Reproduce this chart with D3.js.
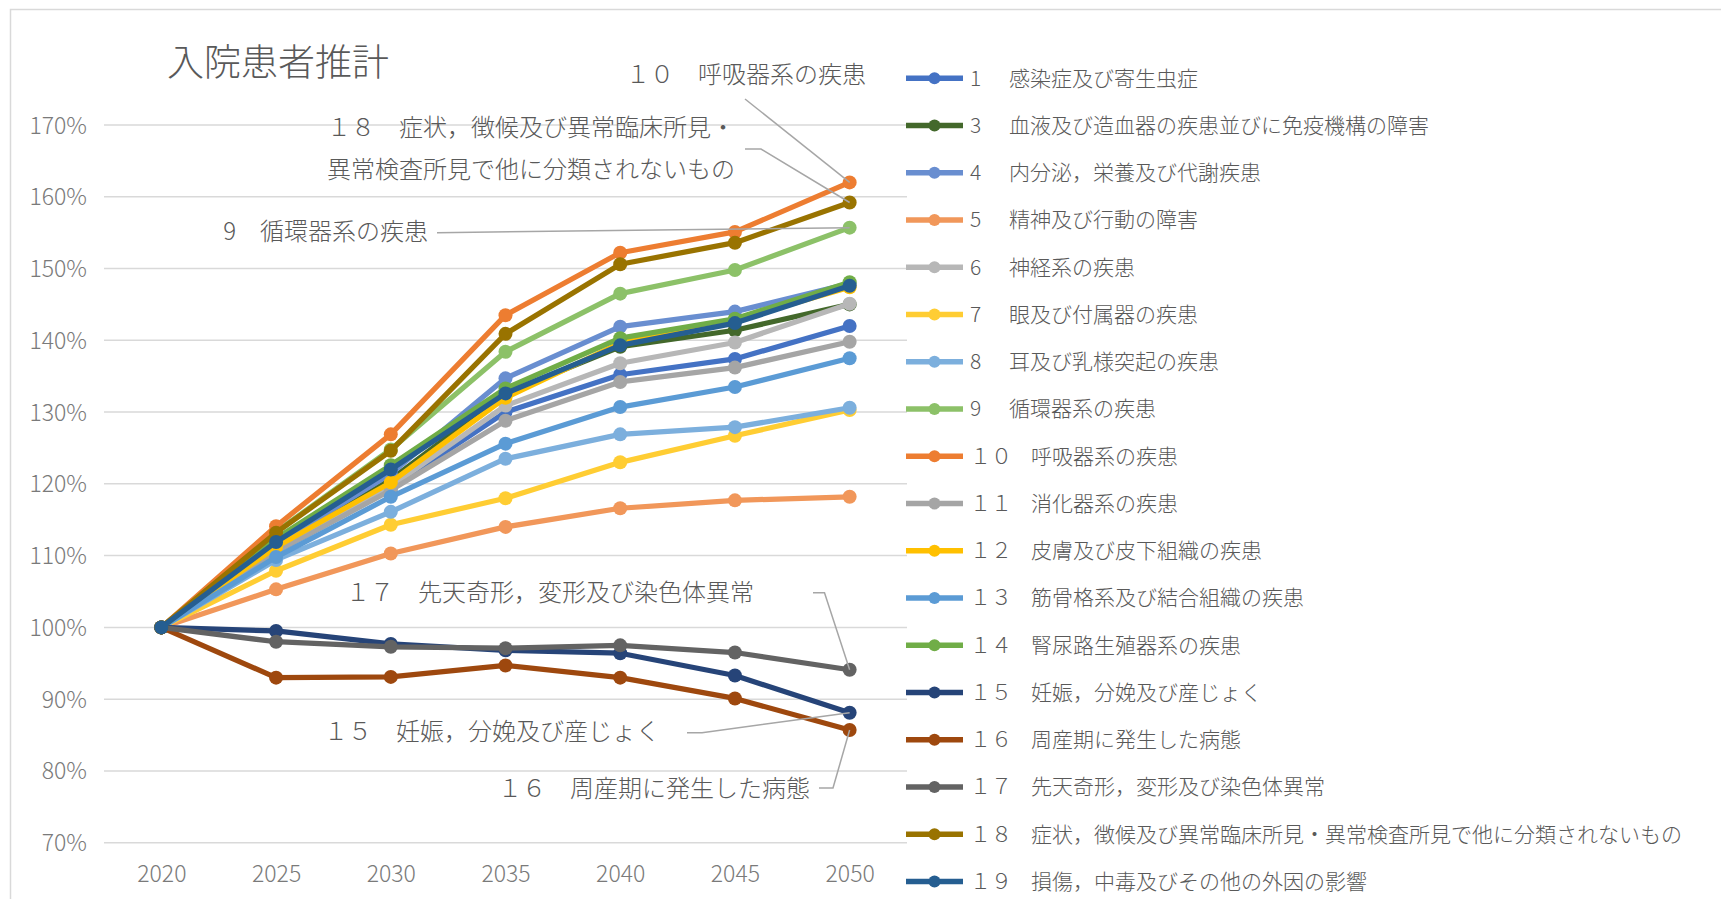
<!DOCTYPE html>
<html>
<head>
<meta charset="utf-8">
<script src="https://cdn.jsdelivr.net/npm/d3@7"></script>
<style>
body { margin: 0; background: #fff; }
text { font-family: "Noto Sans CJK JP", "Noto Sans", sans-serif; font-weight: 300; }
</style>
</head>
<body>
<div id="chart"></div>
<script>

var years = [2020, 2025, 2030, 2035, 2040, 2045, 2050];
var yTicks = [70, 80, 90, 100, 110, 120, 130, 140, 150, 160, 170];
var title = "入院患者推計";

var names = [
    "1　感染症及び寄生虫症",
    "3　血液及び造血器の疾患並びに免疫機構の障害",
    "4　内分泌，栄養及び代謝疾患",
    "5　精神及び行動の障害",
    "6　神経系の疾患",
    "7　眼及び付属器の疾患",
    "8　耳及び乳様突起の疾患",
    "9　循環器系の疾患",
    "１０　呼吸器系の疾患",
    "１１　消化器系の疾患",
    "１２　皮膚及び皮下組織の疾患",
    "１３　筋骨格系及び結合組織の疾患",
    "１４　腎尿路生殖器系の疾患",
    "１５　妊娠，分娩及び産じょく",
    "１６　周産期に発生した病態",
    "１７　先天奇形，変形及び染色体異常",
    "１８　症状，徴候及び異常臨床所見・異常検査所見で他に分類されないもの",
    "１９　損傷，中毒及びその他の外因の影響"
];

var colour = ["#4472C4", "#43682B", "#698ED0", "#F1975A", "#B7B7B7", "#FFCD33",
    "#7CAFDD", "#8CC168", "#ED7D31", "#A5A5A5", "#FFC000", "#5B9BD5",
    "#70AD47", "#264478", "#9E480E", "#636363", "#997300", "#255E91"];

// values in % of 2020
var s1 = [100, 110.6, 119.4, 130.0, 135.2, 137.4, 142.0];
var s3 = [100, 111.0, 120.6, 132.6, 139.1, 141.4, 145.0];
var s4 = [100, 111.6, 121.4, 134.7, 141.9, 144.0, 147.9];
var s5 = [100, 105.3, 110.3, 114.0, 116.6, 117.7, 118.2];
var s6 = [100, 110.8, 119.6, 130.9, 136.8, 139.7, 145.1];
var s7 = [100, 107.9, 114.3, 118.0, 123.0, 126.7, 130.3];
var s8 = [100, 109.4, 116.1, 123.5, 126.9, 127.9, 130.6];
var s9 = [100, 113.3, 124.8, 138.4, 146.5, 149.8, 155.7];
var s10 = [100, 114.1, 126.9, 143.5, 152.2, 155.1, 162.0];
var s11 = [100, 110.5, 119.1, 128.8, 134.2, 136.2, 139.8];
var s12 = [100, 111.2, 120.2, 132.0, 139.6, 142.8, 147.4];
var s13 = [100, 109.8, 118.2, 125.6, 130.7, 133.5, 137.5];
var s14 = [100, 112.4, 122.6, 133.3, 140.3, 143.0, 148.1];
var s15 = [100, 99.5, 97.7, 96.8, 96.4, 93.3, 88.1];
var s16 = [100, 93.0, 93.1, 94.7, 93.0, 90.1, 85.7];
var s17 = [100, 98.0, 97.3, 97.1, 97.5, 96.5, 94.1];
var s18 = [100, 113.2, 124.6, 140.9, 150.6, 153.6, 159.2];
var s19 = [100, 111.9, 122.0, 132.6, 139.3, 142.4, 147.6];

var values = [s1, s3, s4, s5, s6, s7, s8, s9, s10, s11, s12, s13, s14, s15, s16, s17, s18, s19];

// callout labels: series index, text lines
var calloutSeries = [8, 16, 7, 15, 13, 14];
var calloutText = [
    ["１０　呼吸器系の疾患"],
    ["１８　症状，徴候及び異常臨床所見・", "異常検査所見で他に分類されないもの"],
    ["9　循環器系の疾患"],
    ["１７　先天奇形，変形及び染色体異常"],
    ["１５　妊娠，分娩及び産じょく"],
    ["１６　周産期に発生した病態"]
];

var width = 1721;
var height = 899;
var textCol = "#595959";

var svg = d3.select("#chart")
    .append("svg")
    .attr("width", width)
    .attr("height", height);

svg.append("rect")
    .attr("x", 10.5).attr("y", 9.5)
    .attr("width", 1800).attr("height", 1000)
    .attr("fill", "#fff")
    .attr("stroke", "#D9D9D9")
    .attr("stroke-width", 1.5);

var x = d3.scalePoint()
    .domain(years)
    .range([104, 907])
    .padding(0.5);

var y = d3.scaleLinear()
    .domain([70, 170])
    .range([842.7, 125]);

// gridlines
svg.append("g")
    .selectAll("line")
    .data(yTicks)
    .enter()
    .append("line")
    .attr("x1", 104)
    .attr("x2", 907)
    .attr("y1", function (d) { return y(d); })
    .attr("y2", function (d) { return y(d); })
    .attr("stroke", "#D9D9D9")
    .attr("stroke-width", 1.5);

var yAxis = svg.append("g")
    .attr("transform", "translate(87,0)")
    .call(d3.axisLeft(y).tickValues(yTicks).tickSize(0).tickPadding(0)
        .tickFormat(function (d) { return d + "%"; }));
yAxis.select(".domain").remove();
yAxis.selectAll("text")
    .attr("fill", "#7a7a7a")
    .style("font-size", "23px")
    .attr("dy", "0.35em");

var xAxis = svg.append("g")
    .attr("transform", "translate(0,874)")
    .call(d3.axisBottom(x).tickSize(0).tickPadding(0));
xAxis.select(".domain").remove();
xAxis.selectAll("text")
    .attr("fill", "#7a7a7a")
    .style("font-size", "23px")
    .attr("y", 0)
    .attr("dy", "0.35em");

svg.append("text")
    .attr("x", 167)
    .attr("y", 63)
    .attr("dy", "0.35em")
    .attr("fill", textCol)
    .style("font-size", "37px")
    .text(title);

// series
var line = d3.line()
    .x(function (d, i) { return x(years[i]); })
    .y(function (d) { return y(d); });

var series = svg.selectAll(".series")
    .data(values)
    .enter()
    .append("g")
    .attr("class", "series");

series.append("path")
    .attr("d", line)
    .attr("fill", "none")
    .attr("stroke", function (d, i) { return colour[i]; })
    .attr("stroke-width", 5.25)
    .attr("stroke-linejoin", "round");

series.selectAll("circle")
    .data(function (d, i) { return d.map(function (v) { return { v: v, c: colour[i] }; }); })
    .enter()
    .append("circle")
    .attr("cx", function (d, j) { return x(years[j]); })
    .attr("cy", function (d) { return y(d.v); })
    .attr("r", 7)
    .attr("fill", function (d) { return d.c; });

// callouts
var calloutPos = [
    { tx: 626, ty: 75, anchor: "start", lead: [[745, 99]] },
    { tx: 531, ty: 128, anchor: "middle", lead: [[745, 149], [761, 149]] },
    { tx: 428, ty: 232, anchor: "end", lead: [[437, 232.7]] },
    { tx: 346, ty: 593, anchor: "start", lead: [[813, 592.7], [824.5, 592.7]] },
    { tx: 324, ty: 732, anchor: "start", lead: [[687, 732.7], [702, 732.7]] },
    { tx: 498, ty: 789, anchor: "start", lead: [[819, 788], [833, 788]] }
];

calloutSeries.forEach(function (si, k) {
    var p = calloutPos[k];
    var last = years.length - 1;
    var pts = p.lead.concat([[x(years[last]), y(values[si][last])]]);
    svg.append("path")
        .attr("d", d3.line()(pts))
        .attr("fill", "none")
        .attr("stroke", "#A6A6A6")
        .attr("stroke-width", 1.5);
    calloutText[k].forEach(function (t, j) {
        svg.append("text")
            .attr("x", p.tx)
            .attr("y", p.ty + j * 42)
            .attr("dy", "0.35em")
            .attr("text-anchor", p.anchor)
            .attr("fill", textCol)
            .style("font-size", "24px")
            .text(t);
    });
});

// legend
var legendTop = 78.3;
var legendStep = 47.25;

var legend = svg.selectAll(".legend")
    .data(names)
    .enter()
    .append("g")
    .attr("class", "legend")
    .attr("transform", function (d, i) {
        return "translate(906," + (legendTop + i * legendStep) + ")";
    });

legend.append("line")
    .attr("x1", 0).attr("x2", 57)
    .attr("stroke", function (d, i) { return colour[i]; })
    .attr("stroke-width", 5.5);

legend.append("circle")
    .attr("cx", 28.5)
    .attr("r", 6)
    .attr("fill", function (d, i) { return colour[i]; });

legend.append("text")
    .attr("x", 64)
    .attr("dy", "0.35em")
    .attr("fill", textCol)
    .style("font-size", "21px")
    .text(function (d) { return d.split("　")[0]; });

legend.append("text")
    .attr("x", function (d) { return d.split("　")[0].length == 1 ? 103 : 125; })
    .attr("dy", "0.35em")
    .attr("fill", textCol)
    .style("font-size", "21px")
    .text(function (d) { return d.split("　").slice(1).join("　"); });

</script>
</body>
</html>
